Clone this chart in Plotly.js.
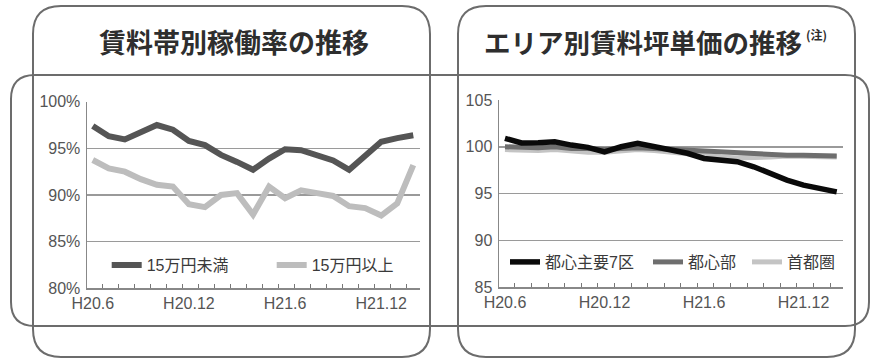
<!DOCTYPE html>
<html>
<head>
<meta charset="utf-8">
<script src="https://cdn.plot.ly/plotly-3.0.1.min.js"></script>
<style>html,body{margin:0;padding:0;background:#fff;}#chart{width:871px;height:361px;}</style>
</head>
<body>
<div id="chart"></div>
<script>
// ---- data ----
const monthLabels = ['H20.6','H20.7','H20.8','H20.9','H20.10','H20.11','H20.12',
  'H21.1','H21.2','H21.3','H21.4','H21.5','H21.6','H21.7','H21.8','H21.9','H21.10','H21.11','H21.12',
  'H22.1','H22.2'];
const tickLabels = ['H20.6','H20.12','H21.6','H21.12'];

const leftTitle = '賃料帯別稼働率の推移';
const rightTitle = 'エリア別賃料坪単価の推移';
const rightNote = '(注)';

const seriesUnder15Name = '15万円未満';
const seriesUnder15 = [97.4, 96.3, 95.95, 96.8, 97.5, 97.0, 95.8, 95.35, 94.3, 93.55, 92.7,
  93.9, 94.9, 94.8, 94.3, 93.7, 92.7, 94.3, 95.7, 96.1, 96.4];
const seriesOver15Name = '15万円以上';
const seriesOver15 = [93.75, 92.85, 92.5, 91.7, 91.1, 90.9, 89.0, 88.7, 90.0, 90.2, 87.9,
  90.9, 89.65, 90.5, 90.2, 89.9, 88.8, 88.6, 87.8, 89.1, 93.2];

const areaCore7Name = '都心主要7区';
const areaCore7 = [100.9, 100.4, 100.43, 100.54, 100.18, 99.93, 99.46, 100.0, 100.36, 100.0, 99.65,
  99.3, 98.75, 98.64, 98.4, 97.86, 97.07, 96.43, 95.9, 95.54, 95.18];
const areaCentralName = '都心部';
const areaCentral = [100.0, 99.9, 99.9, 100.0, 99.8, 99.8, 99.7, 99.8, 99.9, 99.8, 99.7,
  99.6, 99.5, 99.5, 99.4, 99.3, 99.2, 99.1, 99.1, 99.1, 99.0];
const areaMetroName = '首都圏';
const areaMetro = [99.7, 99.6, 99.6, 99.7, 99.5, 99.4, 99.4, 99.6, 99.7, 99.6, 99.4,
  99.2, 99.0, 98.9, 98.8, 98.8, 98.9, 99.0, 99.0, 99.0, 98.9];

const leftYTicks = [80, 85, 90, 95, 100];
const leftYTickText = ['80%', '85%', '90%', '95%', '100%'];
const rightYTicks = [85, 90, 95, 100, 105];
const rightYTickText = ['85', '90', '95', '100', '105'];

// ---- layout helpers ----
const W = 871, H = 361;
const px = x => x / W;
const py = y => 1 - y / H;
const xIdx = monthLabels.map((_, i) => i);
const tickVals = tickLabels.map(t => monthLabels.indexOf(t));

function roundRect(x0, y0, x1, y1, r) {
  const P = (x, y) => px(x) + ',' + py(y);
  return 'M' + P(x0 + r, y0) + ' L' + P(x1 - r, y0) + ' Q' + P(x1, y0) + ' ' + P(x1, y0 + r) +
    ' L' + P(x1, y1 - r) + ' Q' + P(x1, y1) + ' ' + P(x1 - r, y1) +
    ' L' + P(x0 + r, y1) + ' Q' + P(x0, y1) + ' ' + P(x0, y1 - r) +
    ' L' + P(x0, y0 + r) + ' Q' + P(x0, y0) + ' ' + P(x0 + r, y0) + ' Z';
}
const boxLine = {color: '#6c6c6c', width: 2};
const boxShape = p => ({type: 'path', xref: 'paper', yref: 'paper', path: p, line: boxLine,
  fillcolor: 'rgba(0,0,0,0)', layer: 'above'});

const numFont = 'Liberation Sans, Arial, sans-serif';
const jpFont = 'Liberation Sans, Noto Sans CJK JP, sans-serif';
const titleFont = 'Noto Sans CJK JP, sans-serif';

const traces = [
  {x: xIdx, y: seriesUnder15, name: seriesUnder15Name, type: 'scatter', mode: 'lines',
   line: {color: '#555555', width: 6}, xaxis: 'x', yaxis: 'y', legend: 'legend'},
  {x: xIdx, y: seriesOver15, name: seriesOver15Name, type: 'scatter', mode: 'lines',
   line: {color: '#bdbdbd', width: 6}, xaxis: 'x', yaxis: 'y', legend: 'legend2'},
  {x: xIdx, y: areaMetro, name: areaMetroName, type: 'scatter', mode: 'lines',
   line: {color: '#c4c4c4', width: 5}, xaxis: 'x2', yaxis: 'y2', legend: 'legend5'},
  {x: xIdx, y: areaCentral, name: areaCentralName, type: 'scatter', mode: 'lines',
   line: {color: '#6e6e6e', width: 5}, xaxis: 'x2', yaxis: 'y2', legend: 'legend4'},
  {x: xIdx, y: areaCore7, name: areaCore7Name, type: 'scatter', mode: 'lines',
   line: {color: '#0a0a0a', width: 5.5}, xaxis: 'x2', yaxis: 'y2', legend: 'legend3'}
];

const xCommon = {
  tickvals: tickVals, ticktext: tickLabels, ticks: '', showline: true, linecolor: '#888',
  linewidth: 1.5, showgrid: false, zeroline: false,
  minor: {tick0: 0.6, dtick: 1, ticks: 'inside', ticklen: 4, tickcolor: '#777', tickwidth: 1, showgrid: false},
  tickfont: {family: numFont, size: 16, color: '#555'}, fixedrange: true
};
const yCommon = {
  ticks: '', showline: true, linecolor: '#888', linewidth: 1.5, showgrid: true,
  gridcolor: '#9a9a9a', gridwidth: 1.5, zeroline: false,
  tickfont: {family: numFont, size: 16, color: '#555'}, fixedrange: true, ticklabelstandoff: 2
};
const legendBase = (xPix, yPix) => ({
  x: px(xPix), y: py(yPix), xanchor: 'left', yanchor: 'middle', orientation: 'h',
  bgcolor: 'rgba(0,0,0,0)', borderwidth: 0, itemwidth: 30,
  font: {family: jpFont, size: 16, color: '#3a3a3a'}
});

const layout = {
  width: W, height: H,
  margin: {l: 0, r: 0, t: 0, b: 0},
  paper_bgcolor: '#ffffff', plot_bgcolor: 'rgba(0,0,0,0)',
  showlegend: true,
  xaxis: Object.assign({}, xCommon, {domain: [px(87), px(420)], range: [-0.36, 20.42], anchor: 'y'}),
  yaxis: Object.assign({}, yCommon, {domain: [py(288.3), py(101.7)], range: [80, 100],
    tickvals: leftYTicks, ticktext: leftYTickText, anchor: 'x'}),
  xaxis2: Object.assign({}, xCommon, {domain: [px(499), px(843)], range: [-0.36, 20.38], anchor: 'y2'}),
  yaxis2: Object.assign({}, yCommon, {domain: [py(287), py(100)], range: [85, 105],
    tickvals: rightYTicks, ticktext: rightYTickText, anchor: 'x2'}),
  legend: legendBase(106.7, 265),
  legend2: legendBase(271.7, 265),
  legend3: legendBase(505, 262),
  legend4: legendBase(648, 262),
  legend5: legendBase(747, 262),
  annotations: [
    {text: leftTitle, xref: 'paper', yref: 'paper', x: px(233.5), y: py(41), xanchor: 'center',
     yanchor: 'middle', showarrow: false, font: {family: titleFont, size: 27, color: '#2e2e2e', weight: 600}},
    {text: rightTitle, xref: 'paper', yref: 'paper', x: px(642.5), y: py(41), xanchor: 'center',
     yanchor: 'middle', showarrow: false, font: {family: titleFont, size: 26.5, color: '#2e2e2e', weight: 600}},
    {text: rightNote, xref: 'paper', yref: 'paper', x: px(804), y: py(35), xanchor: 'left',
     yanchor: 'middle', showarrow: false, font: {family: titleFont, size: 12, color: '#2e2e2e', weight: 'bold'}}
  ],
  shapes: [
    boxShape(roundRect(33, 6, 430, 357, 28)),
    boxShape(roundRect(11, 75, 869, 326, 24)),
    boxShape(roundRect(458, 6, 855, 357, 28))
  ]
};

Plotly.newPlot('chart', traces, layout, {displayModeBar: false, staticPlot: true});
</script>
</body>
</html>
